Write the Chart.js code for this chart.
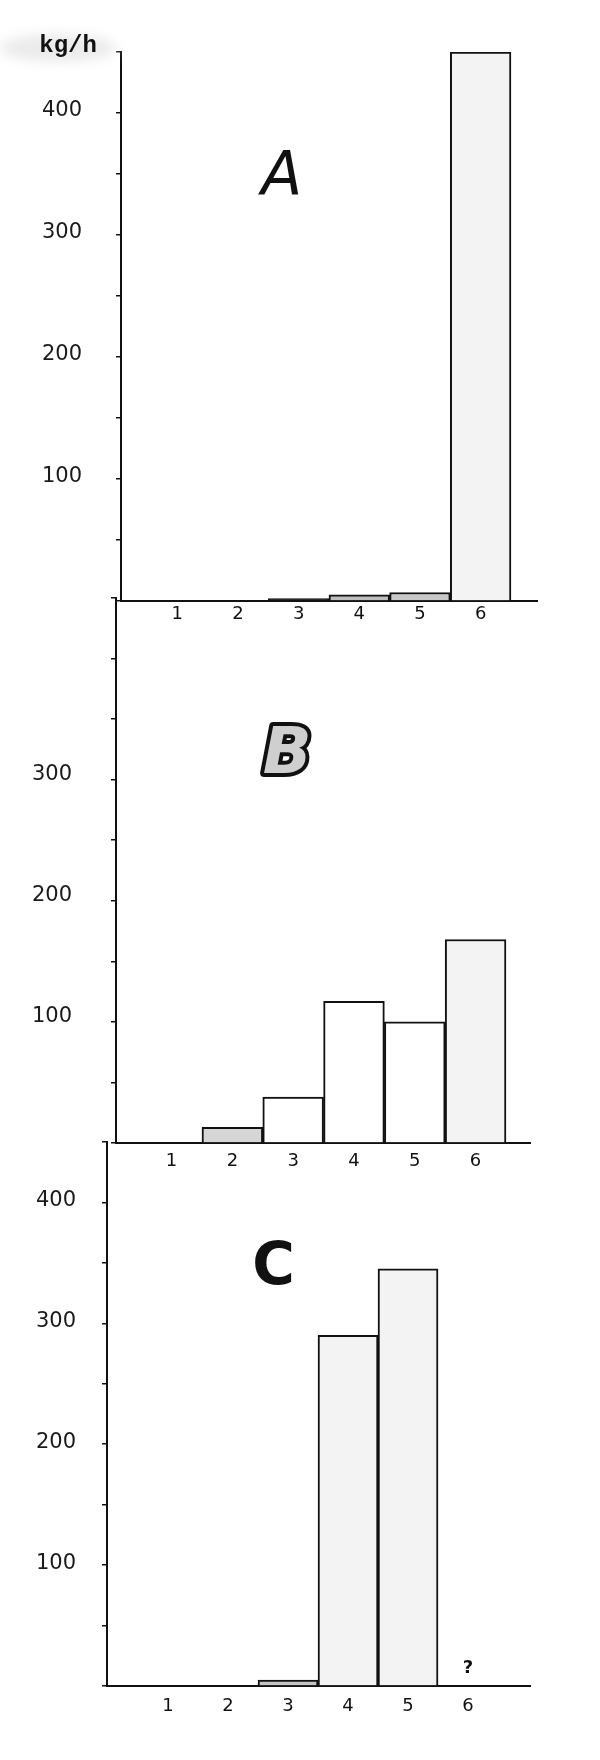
<!DOCTYPE html>
<html>
<head>
<meta charset="utf-8">
<title>kg/h por clase - A, B, C</title>
<script src="https://cdn.jsdelivr.net/npm/chart.js@4.4.1/dist/chart.umd.min.js"></script>
<style>
    html, body { margin: 0; padding: 0; background: #fff; }
    #lienzo { position: relative; width: 600px; height: 1760px; }
    #lienzo canvas { position: absolute; left: 0; top: 0; }
</style>
</head>
<body>
<div id="lienzo">
    <canvas id="graficaA" width="600" height="1760"></canvas>
    <canvas id="graficaB" width="600" height="1760"></canvas>
    <canvas id="graficaC" width="600" height="1760"></canvas>
</div>
<script>
// Datos (kg/h por clase)
const categorias = [1, 2, 3, 4, 5, 6];
const etiquetasX = ['1', '2', '3', '4', '5', '6'];
const valoresA = [0, 0, 2, 5, 7, 450];
const valoresB = [0, 13, 38, 117, 100, 168];
const valoresC = [0, 0, 5, 290, 345, 0];
const etiquetasYA = [100, 200, 300, 400];
const etiquetasYB = [100, 200, 300];
const etiquetasYC = [100, 200, 300, 400];
const unidad = 'kg/h';

// Rellenos de cada barra (gris claro, blanco, etc.)
const rellenoA = ['#ffffff', '#ffffff', '#2a2a2a', '#bdbdbd', '#c8c8c8', '#f3f3f3'];
const rellenoB = ['#ffffff', '#d6d6d6', '#ffffff', '#ffffff', '#ffffff', '#f3f3f3'];
const rellenoC = ['#ffffff', '#ffffff', '#c4c4c4', '#f3f3f3', '#f3f3f3', '#ffffff'];

// Plugin para las letras de cada panel y la unidad, en coordenadas de los ejes
const letrasPanel = {
    id: 'letrasPanel',
    afterDraw(chart, args, opts) {
        const ctx = chart.ctx;
        const x = chart.scales.x, y = chart.scales.y;
        (opts.items || []).forEach(function(it) {
            const px = x.getPixelForValue(it.x);
            const py = y.getPixelForValue(it.y);
            ctx.save();
            if (it.mancha) {
                // mancha gris clara de la fotocopia
                ctx.filter = 'blur(6px)';
                ctx.fillStyle = '#ebebeb';
                ctx.beginPath();
                ctx.ellipse(px - 10, py + 2, 58, 14, 0, 0, Math.PI * 2);
                ctx.fill();
                ctx.filter = 'none';
            }
            ctx.font = it.font;
            ctx.textAlign = 'center';
            ctx.textBaseline = 'middle';
            if (it.contorno) {
                ctx.lineJoin = 'round';
                ctx.lineWidth = 8;
                ctx.strokeStyle = '#111';
                ctx.strokeText(it.texto, px, py);
                ctx.fillStyle = '#cfcfcf';
            } else {
                ctx.fillStyle = '#111';
            }
            ctx.fillText(it.texto, px, py);
            ctx.restore();
        });
    }
};

function crearPanel(id, valores, relleno, etiquetasY, cfg) {
    return new Chart(document.getElementById(id), {
        type: 'bar',
        data: {
            datasets: [{
                data: categorias.map((c, i) => ({ x: c, y: valores[i] })),
                backgroundColor: relleno,
                borderColor: '#111',
                borderWidth: 2,
                borderSkipped: 'start',
                barPercentage: 1,
                categoryPercentage: 1
            }]
        },
        options: {
            responsive: false,
            animation: false,
            devicePixelRatio: 1,
            layout: { padding: cfg.padding },
            plugins: {
                legend: { display: false },
                tooltip: { enabled: false },
                letrasPanel: { items: cfg.textos }
            },
            scales: {
                x: {
                    type: 'linear',
                    min: cfg.xMin,
                    max: cfg.xMax,
                    offset: false,
                    afterFit: function(s) { s.height = 30; },
                    grid: { drawOnChartArea: false, drawTicks: false, offset: false },
                    border: { display: true, color: '#111', width: 2 },
                    ticks: {
                        stepSize: 1,
                        includeBounds: false,
                        autoSkip: false,
                        maxRotation: 0,
                        padding: cfg.xPad,
                        color: '#111',
                        font: { family: 'DejaVu Sans', size: 18 },
                        callback: function(v) {
                            const i = categorias.indexOf(v);
                            return i >= 0 ? etiquetasX[i] : '';
                        }
                    }
                },
                y: {
                    min: 0,
                    max: cfg.yMax,
                    afterFit: function(s) { s.width = cfg.anchoEje; },
                    grid: { drawOnChartArea: false, drawTicks: true, tickLength: 5, color: '#111', lineWidth: 1.5 },
                    border: { display: true, color: '#111', width: 2 },
                    ticks: {
                        stepSize: 50,
                        includeBounds: false,
                        autoSkip: false,
                        padding: cfg.yPad,
                        labelOffset: cfg.yOffset,
                        color: '#1a1a1a',
                        font: { family: 'DejaVu Sans', size: 21 },
                        callback: function(v) { return etiquetasY.includes(v) ? String(v) : ''; }
                    }
                }
            }
        },
        plugins: [letrasPanel]
    });
}

// Panel A
crearPanel('graficaA', valoresA, rellenoA, etiquetasYA, {
    padding: { top: 52, left: 0, right: 63, bottom: 1129 },
    anchoEje: 121, xMin: 0.072, xMax: 6.929, yMax: 450, xPad: 3, yPad: 34, yOffset: -2,
    textos: [
        { texto: 'A', x: 2.72, y: 346, font: 'italic 60px "DejaVu Sans"' },
        { texto: unidad, x: -0.80, y: 455, font: 'bold 24px "Liberation Mono"', mancha: true }
    ]
});

// Panel B
crearPanel('graficaB', valoresB, rellenoB, etiquetasYB, {
    padding: { top: 598, left: 0, right: 70, bottom: 587 },
    anchoEje: 116, xMin: 0.086, xMax: 6.895, yMax: 450, xPad: 8, yPad: 39, yOffset: -5,
    textos: [
        { texto: 'B', x: 2.9, y: 319, font: 'bold italic 64px "DejaVu Sans"', contorno: true }
    ]
});

// Panel C
crearPanel('graficaC', valoresC, rellenoC, etiquetasYC, {
    padding: { top: 1142, left: 0, right: 70, bottom: 44 },
    anchoEje: 107, xMin: -0.017, xMax: 7.033, yMax: 450, xPad: 10, yPad: 26, yOffset: -2,
    textos: [
        { texto: 'C', x: 2.76, y: 345, font: 'bold 58px "DejaVu Sans"' },
        { texto: '?', x: 6, y: 15, font: 'bold 18px "DejaVu Sans"' }
    ]
});
</script>
</body>
</html>
